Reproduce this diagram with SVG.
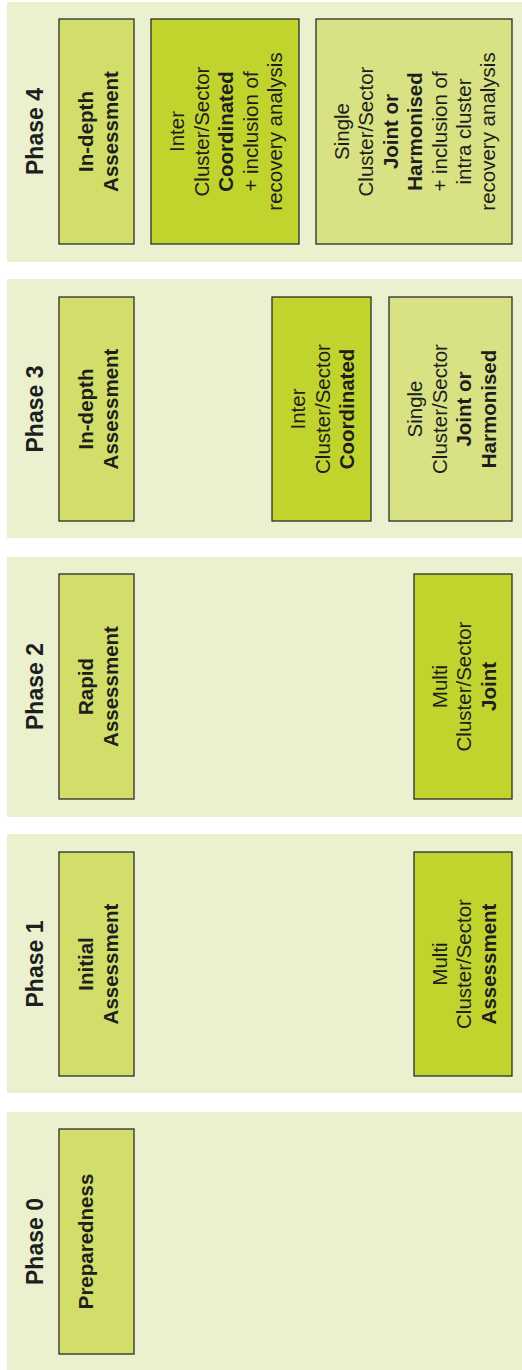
<svg xmlns="http://www.w3.org/2000/svg" width="522" height="1370" viewBox="0 0 522 1370">
<style>
.band{fill:#EBF1CE}
.box{stroke:#2b2b2b;stroke-width:1.3}
.a{fill:#D2DE69}
.b{fill:#C1D42E}
.c{fill:#D8E285}
text{font-family:"Liberation Sans",Arial,sans-serif;fill:#1e1e1e;text-anchor:middle}
.ph{font-size:23px;font-weight:bold}
.t{font-size:20.5px}
.bd{font-weight:bold}
</style>
<rect width="522" height="1370" fill="#ffffff"/>
<g id="phase4">
<rect class="band" x="7" y="2" width="515" height="260"/>
<text class="ph" transform="translate(0,131.5) rotate(-90)" y="42.5">Phase 4</text>
</g>
<g id="p4-indepth">
<rect class="box a" x="59" y="19" width="75" height="225"/>
<text class="t bd" transform="translate(0,131.5) rotate(-90)"><tspan x="0" y="93">In-depth</tspan><tspan x="0" y="118">Assessment</tspan></text>
</g>
<g id="p4-inter">
<rect class="box b" x="151" y="19" width="148" height="225"/>
<text class="t" transform="translate(0,131.5) rotate(-90)"><tspan x="0" y="184">Inter</tspan><tspan x="0" y="208.5">Cluster/Sector</tspan><tspan x="0" y="233" class="bd">Coordinated</tspan><tspan x="0" y="257.5">+ inclusion of</tspan><tspan x="0" y="282">recovery analysis</tspan></text>
</g>
<g id="p4-single">
<rect class="box c" x="316" y="19" width="196" height="225"/>
<text class="t" transform="translate(0,131.5) rotate(-90)"><tspan x="0" y="349">Single</tspan><tspan x="0" y="373.4">Cluster/Sector</tspan><tspan x="0" y="397.8" class="bd">Joint or</tspan><tspan x="0" y="422.2" class="bd">Harmonised</tspan><tspan x="0" y="446.6">+ inclusion of</tspan><tspan x="0" y="471">intra cluster</tspan><tspan x="0" y="495.4">recovery analysis</tspan></text>
</g>
<g id="phase3">
<rect class="band" x="7" y="279" width="515" height="259"/>
<text class="ph" transform="translate(0,409) rotate(-90)" y="42.5">Phase 3</text>
</g>
<g id="p3-indepth">
<rect class="box a" x="59" y="297" width="75" height="224"/>
<text class="t bd" transform="translate(0,409) rotate(-90)"><tspan x="0" y="93">In-depth</tspan><tspan x="0" y="118">Assessment</tspan></text>
</g>
<g id="p3-inter">
<rect class="box b" x="272" y="297" width="99" height="224"/>
<text class="t" transform="translate(0,409) rotate(-90)"><tspan x="0" y="305">Inter</tspan><tspan x="0" y="329.5">Cluster/Sector</tspan><tspan x="0" y="354" class="bd">Coordinated</tspan></text>
</g>
<g id="p3-single">
<rect class="box c" x="389" y="297" width="123" height="224"/>
<text class="t" transform="translate(0,409) rotate(-90)"><tspan x="0" y="422">Single</tspan><tspan x="0" y="446.5">Cluster/Sector</tspan><tspan x="0" y="471" class="bd">Joint or</tspan><tspan x="0" y="495.5" class="bd">Harmonised</tspan></text>
</g>
<g id="phase2">
<rect class="band" x="7" y="557" width="515" height="260"/>
<text class="ph" transform="translate(0,686.5) rotate(-90)" y="42.5">Phase 2</text>
</g>
<g id="p2-rapid">
<rect class="box a" x="59" y="574" width="75" height="225"/>
<text class="t bd" transform="translate(0,686.5) rotate(-90)"><tspan x="0" y="93">Rapid</tspan><tspan x="0" y="118">Assessment</tspan></text>
</g>
<g id="p2-multi">
<rect class="box b" x="414" y="574" width="98" height="225"/>
<text class="t" transform="translate(0,686.5) rotate(-90)"><tspan x="0" y="446.5">Multi</tspan><tspan x="0" y="471">Cluster/Sector</tspan><tspan x="0" y="495.5" class="bd">Joint</tspan></text>
</g>
<g id="phase1">
<rect class="band" x="7" y="834" width="515" height="259"/>
<text class="ph" transform="translate(0,964) rotate(-90)" y="42.5">Phase 1</text>
</g>
<g id="p1-initial">
<rect class="box a" x="59" y="852" width="75" height="224"/>
<text class="t bd" transform="translate(0,964) rotate(-90)"><tspan x="0" y="93">Initial</tspan><tspan x="0" y="118">Assessment</tspan></text>
</g>
<g id="p1-multi">
<rect class="box b" x="414" y="852" width="98" height="224"/>
<text class="t" transform="translate(0,964) rotate(-90)"><tspan x="0" y="446.5">Multi</tspan><tspan x="0" y="471">Cluster/Sector</tspan><tspan x="0" y="495.5" class="bd">Assessment</tspan></text>
</g>
<g id="phase0">
<rect class="band" x="7" y="1112" width="515" height="258"/>
<text class="ph" transform="translate(0,1241.5) rotate(-90)" y="42.5">Phase 0</text>
</g>
<g id="p0-preparedness">
<rect class="box a" x="59" y="1129" width="75" height="225"/>
<text class="t bd" transform="translate(0,1241.5) rotate(-90)"><tspan x="0" y="93">Preparedness</tspan></text>
</g>
<g id="connectors"></g>
</svg>
